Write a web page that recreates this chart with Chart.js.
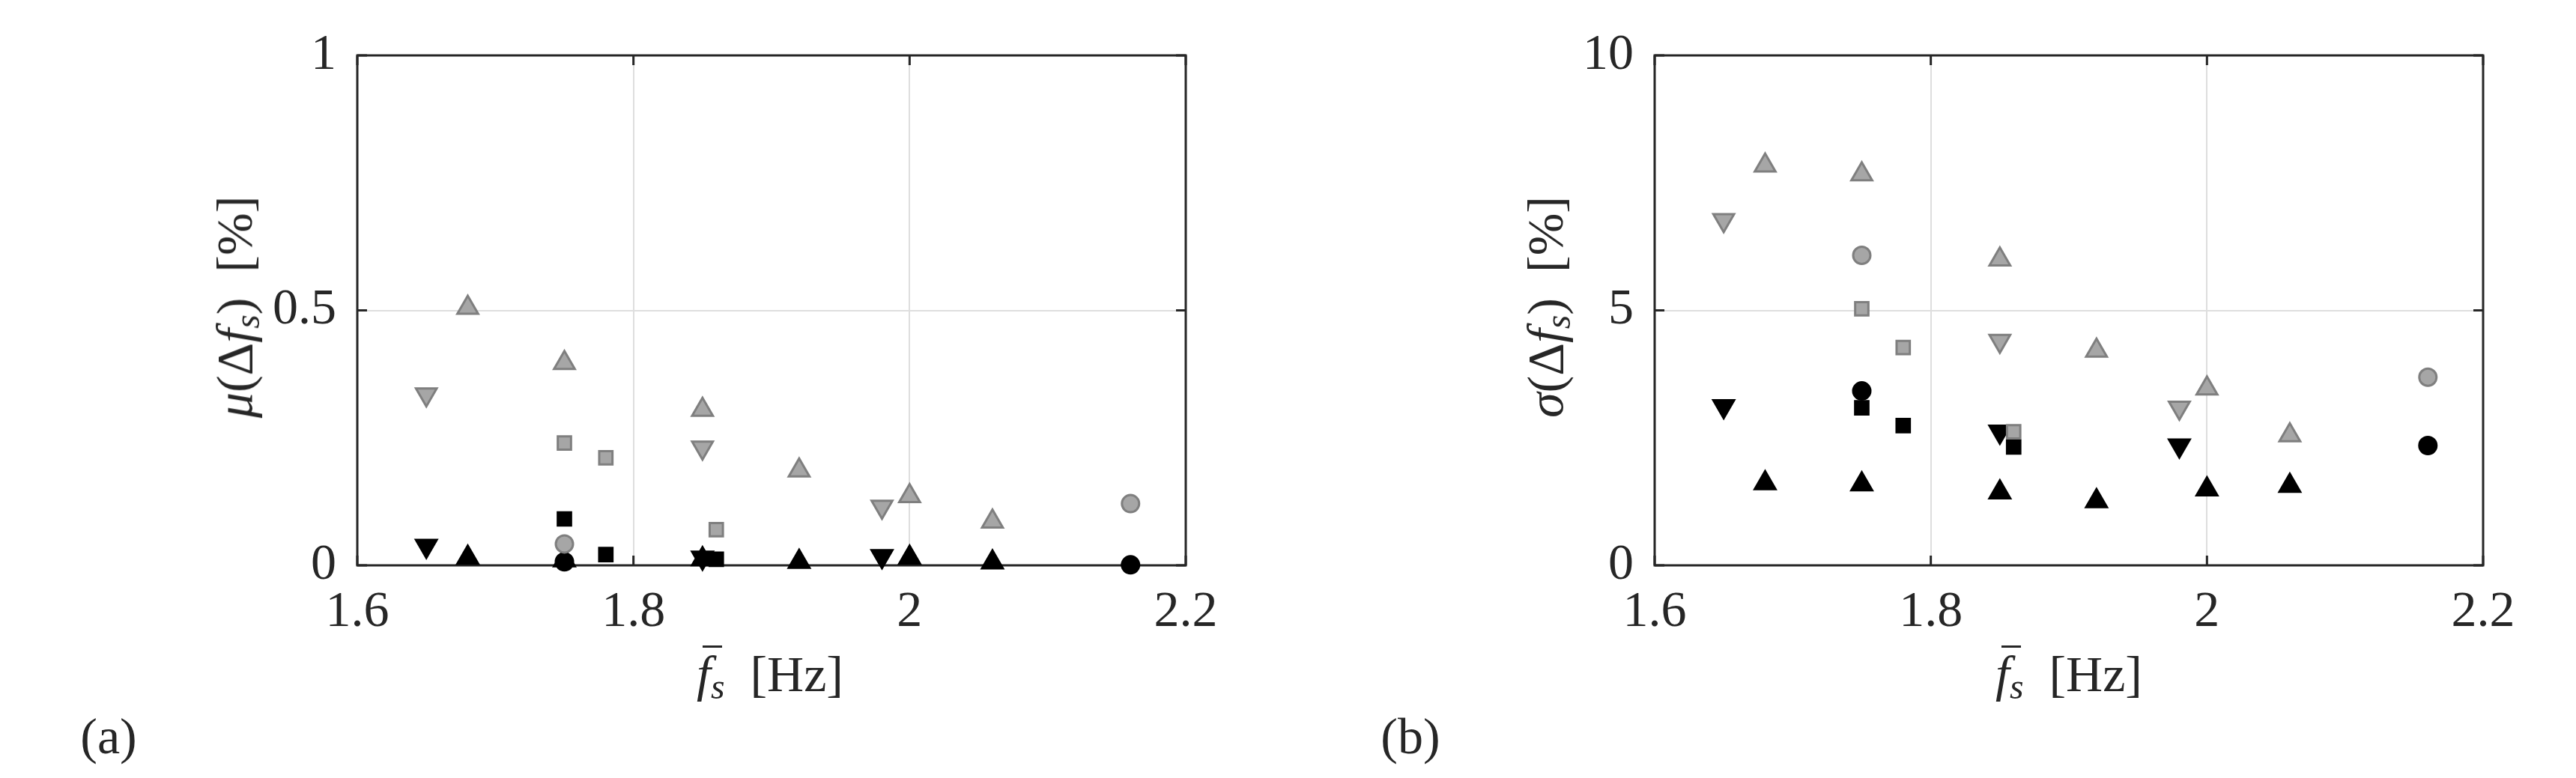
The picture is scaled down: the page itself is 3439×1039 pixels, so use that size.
<!DOCTYPE html>
<html><head><meta charset="utf-8">
<script src="https://cdn.jsdelivr.net/npm/chart.js@4.4.1/dist/chart.umd.min.js"></script>
<style>
html,body{margin:0;padding:0;background:#fff;}
body{width:3439px;height:1039px;position:relative;overflow:hidden;font-family:"Liberation Serif",LiberationSerif,Tinos,"Times New Roman",Times,"DejaVu Serif","Noto Serif",serif;color:#262626;}
canvas{position:absolute;top:0;}
.lab{position:absolute;white-space:nowrap;font-size:68px;line-height:1;transform:translate(-50%,-50%);}
.ylab{transform:translate(-50%,-50%) rotate(-90deg);}
.sub{font-size:0.7em;position:relative;top:0.22em;}
.fb{position:relative;display:inline-block;}
.fb .bar{position:absolute;left:0.12em;top:-0.06em;width:0.38em;border-top:3px solid #262626;}
</style>
</head><body>
<canvas id="cA" width="1720" height="1039" style="left:0px;width:1720px;height:1039px"></canvas>
<canvas id="cB" width="1719" height="1039" style="left:1720px;width:1719px;height:1039px"></canvas>

<div class="lab ylab" style="left:313px;top:410px;"><i>μ</i>(Δ<i>f</i><span class="sub"><i>s</i></span>)&nbsp;&nbsp;[%]</div>
<div class="lab ylab" style="left:2063px;top:410px;"><i>σ</i>(Δ<i>f</i><span class="sub"><i>s</i></span>)&nbsp;&nbsp;[%]</div>
<div class="lab" style="left:1028px;top:900px;"><span class="fb"><i>f</i><span class="bar"></span></span><span class="sub"><i>s</i></span>&nbsp;&nbsp;[Hz]</div>
<div class="lab" style="left:2762px;top:900px;"><span class="fb"><i>f</i><span class="bar"></span></span><span class="sub"><i>s</i></span>&nbsp;&nbsp;[Hz]</div>
<div class="lab" style="left:145px;top:983px;">(a)</div>
<div class="lab" style="left:1883px;top:983px;">(b)</div>

<script>
// ---------- data ----------
const xTicks = [1.6, 1.8, 2.0, 2.2];
const xTickLabels = ['1.6', '1.8', '2', '2.2'];
const yTicksA = [0, 0.5, 1];
const yTickLabelsA = ['0', '0.5', '1'];
const yTicksB = [0, 5, 10];
const yTickLabelsB = ['0', '5', '10'];

const upX = [1.68, 1.75, 1.85, 1.92, 2.00, 2.06];
const downX = [1.65, 1.85, 1.98];
const sqX = [1.75, 1.78, 1.86];
const circX = [1.75, 2.16];

// panel (a): mean
const muUpBlack = [0.015, 0.010, 0.012, 0.007, 0.015, 0.006];
const muDownBlack = [0.038, 0.015, 0.018];
const muSqBlack = [0.091, 0.021, 0.012];
const muCircBlack = [0.007, 0.001];
const muUpGray = [0.505, 0.397, 0.305, 0.186, 0.136, 0.086];
const muDownGray = [0.335, 0.231, 0.115];
const muSqGray = [0.240, 0.211, 0.070];
const muCircGray = [0.042, 0.121];

// panel (b): standard deviation
const sdUpBlack = [1.61, 1.59, 1.43, 1.26, 1.49, 1.56];
const sdDownBlack = [3.12, 2.62, 2.35];
const sdSqBlack = [3.09, 2.74, 2.32];
const sdCircBlack = [3.42, 2.35];
const sdUpGray = [7.84, 7.67, 6.00, 4.21, 3.47, 2.55];
const sdDownGray = [6.77, 4.40, 3.09];
const sdSqGray = [5.03, 4.27, 2.62];
const sdCircGray = [6.08, 3.69];

// ---------- styles ----------
const AX = '#262626';
const GRAY_FILL = '#a6a6a6';
const GRAY_EDGE = '#7f7f7f';
const FAMILY = '"Liberation Serif", LiberationSerif, Tinos, "Times New Roman", Times, "DejaVu Serif", "Noto Serif", serif';
const FONT = {family: FAMILY, size: 68};

const SHAPES = {
  up:   {pointStyle: 'triangle', rotation: 0,   radius: 16},
  down: {pointStyle: 'triangle', rotation: 180, radius: 16},
  sq:   {pointStyle: 'rect',     rotation: 0,   radius: 12.5},
  circ: {pointStyle: 'circle',   rotation: 0,   radius: 11.5}
};

function ds(xs, ys, shape, gray) {
  const s = SHAPES[shape];
  return {
    data: xs.map((x, i) => ({x: x, y: ys[i]})),
    pointStyle: s.pointStyle,
    rotation: s.rotation,
    pointRadius: s.radius,
    pointHoverRadius: s.radius,
    backgroundColor: gray ? GRAY_FILL : '#000000',
    borderColor: gray ? GRAY_EDGE : '#000000',
    borderWidth: 3,
    showLine: false,
    clip: false
  };
}

const framePlugin = {
  id: 'matlabFrame',
  beforeDatasetsDraw(chart) {
    const {ctx, chartArea: a, scales} = chart;
    ctx.save();
    ctx.strokeStyle = AX;
    ctx.lineWidth = 3;
    const tl = 13;
    ctx.beginPath();
    scales.x.ticks.forEach(t => {
      const p = scales.x.getPixelForValue(t.value);
      ctx.moveTo(p, a.bottom); ctx.lineTo(p, a.bottom - tl);
      ctx.moveTo(p, a.top); ctx.lineTo(p, a.top + tl);
    });
    scales.y.ticks.forEach(t => {
      const p = scales.y.getPixelForValue(t.value);
      ctx.moveTo(a.left, p); ctx.lineTo(a.left + tl, p);
      ctx.moveTo(a.right, p); ctx.lineTo(a.right - tl, p);
    });
    ctx.stroke();
    ctx.strokeRect(a.left, a.top, a.right - a.left, a.bottom - a.top);
    ctx.restore();
  }
};

function makePanel(id, sets, yMax, yTicks, yLabels, areaLeft, padRight) {
  const n = sets.length;
  sets.forEach((d, i) => { d.order = n - i; });
  return new Chart(document.getElementById(id), {
    type: 'scatter',
    data: {datasets: sets},
    plugins: [framePlugin],
    options: {
      responsive: false,
      animation: false,
      devicePixelRatio: 1,
      events: [],
      layout: {padding: {top: 74, right: padRight, left: 0, bottom: 0}},
      plugins: {legend: {display: false}, tooltip: {enabled: false}},
      scales: {
        x: {
          type: 'linear', min: 1.6, max: 2.2,
          afterBuildTicks: s => { s.ticks = xTicks.map(v => ({value: v})); },
          afterFit: s => { s.height = 1039 - 755; },
          ticks: {
            callback: (v, i) => xTickLabels[i],
            font: FONT, color: AX, padding: 22, maxRotation: 0, autoSkip: false
          },
          grid: {color: '#dedede', lineWidth: 2, drawTicks: false},
          border: {display: false}
        },
        y: {
          type: 'linear', min: 0, max: yMax,
          afterBuildTicks: s => { s.ticks = yTicks.map(v => ({value: v})); },
          afterFit: s => { s.width = areaLeft; },
          ticks: {
            callback: (v, i) => yLabels[i],
            font: FONT, color: AX, padding: 28, autoSkip: false
          },
          grid: {color: '#dedede', lineWidth: 2, drawTicks: false},
          border: {display: false}
        }
      }
    }
  });
}

function build() {
  makePanel('cA', [
    ds(upX, muUpBlack, 'up', false),
    ds(downX, muDownBlack, 'down', false),
    ds(sqX, muSqBlack, 'sq', false),
    ds(circX, muCircBlack, 'circ', false),
    ds(upX, muUpGray, 'up', true),
    ds(downX, muDownGray, 'down', true),
    ds(sqX, muSqGray, 'sq', true),
    ds(circX, muCircGray, 'circ', true)
  ], 1, yTicksA, yTickLabelsA, 477, 1720 - 1583);

  makePanel('cB', [
    ds(upX, sdUpBlack, 'up', false),
    ds(downX, sdDownBlack, 'down', false),
    ds(sqX, sdSqBlack, 'sq', false),
    ds(circX, sdCircBlack, 'circ', false),
    ds(upX, sdUpGray, 'up', true),
    ds(downX, sdDownGray, 'down', true),
    ds(sqX, sdSqGray, 'sq', true),
    ds(circX, sdCircGray, 'circ', true)
  ], 10, yTicksB, yTickLabelsB, 2209 - 1720, 1719 - 1595);
}

if (document.fonts && document.fonts.load) {
  Promise.all([
    document.fonts.load('68px "Liberation Serif"'),
    document.fonts.load('italic 68px "Liberation Serif"')
  ]).then(build, build);
} else {
  build();
}
</script>
</body></html>
